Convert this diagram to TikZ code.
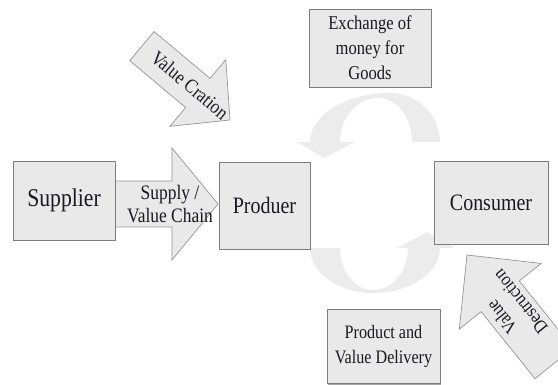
\documentclass[tikz,border=0pt]{standalone}
\usepackage{fontspec}
\setmainfont[FakeStretch=0.85]{Liberation Serif}
\usetikzlibrary{shadows}
\definecolor{boxfill}{RGB}{233,233,233}
\definecolor{boxline}{RGB}{125,125,125}
\definecolor{arrline}{RGB}{150,150,150}
\definecolor{cresfill}{RGB}{236,236,236}
\definecolor{txtcol}{RGB}{25,25,32}
\definecolor{shadowcol}{RGB}{165,165,165}
\begin{document}
\begin{tikzpicture}[x=1pt,y=1pt,
  box/.style={draw=boxline, fill=boxfill, line width=0.8pt, text=txtcol, align=center, inner sep=0pt,
    drop shadow={shadow xshift=1.2pt, shadow yshift=-1.2pt, fill=shadowcol, opacity=1}},
  blk/.style={draw=arrline, fill=boxfill, line width=0.7pt, line join=miter},
  cres/.style={fill=cresfill, draw=none},
  txt/.style={text=txtcol, inner sep=0pt, align=center},
]
\useasboundingbox (0,0) rectangle (558,-385);
\clip (0,0) rectangle (558,-385);

% circular (crescent) arrows
\path[cres] (440,-142) arc[start angle=0, end angle=90, x radius=50, y radius=49]
  arc[start angle=90, end angle=180, x radius=80, y radius=49]
  -- (297,-142) -- (324,-158) -- (355,-142) -- (340,-142)
  arc[start angle=180, end angle=90, x radius=38, y radius=44]
  arc[start angle=90, end angle=0, x radius=34, y radius=44] -- cycle;
\path[cres] (310,-248) arc[start angle=180, end angle=270, x radius=63, y radius=45]
  arc[start angle=270, end angle=360, x radius=67, y radius=45]
  -- (455,-248) -- (427,-232) -- (397,-248) -- (408,-248)
  arc[start angle=0, end angle=-90, x radius=35, y radius=42]
  arc[start angle=-90, end angle=-180, x radius=33, y radius=42] -- cycle;

% Supply / Value Chain arrow
\begin{scope}[shift={(218,-204)}]
  \draw[blk] (0,0) -- (-46,56) -- (-46,23) -- (-103,23) -- (-103,-23) -- (-46,-23) -- (-46,-56) -- cycle;
  \node[txt, font=\fontsize{20.5}{23}\selectfont] (chain) at (-48,0) {Supply /\\Value Chain};
\end{scope}

% Value Cration arrow
\begin{scope}[shift={(230,-120)}, rotate=-40]
  \draw[blk] (0,0) -- (-42,43.5) -- (-42,19) -- (-115,19) -- (-115,-19) -- (-42,-19) -- (-42,-43.5) -- cycle;
  \node[txt, rotate=-40, font=\fontsize{20}{22}\selectfont] (creation) at (-53,1) {Value Cration};
\end{scope}

% Value Destruction arrow
\begin{scope}[shift={(467,-255)}, rotate=128.8]
  \draw[blk] (0,0) -- (-53,52.5) -- (-53,24.5) -- (-139,24.5) -- (-139,-24.5) -- (-53,-24.5) -- (-53,-52.5) -- cycle;
  \node[txt, rotate=128.8, font=\fontsize{19}{24}\selectfont] (destruction) at (-70,0) {Value\\Destruction};
\end{scope}

% boxes
\node[box, minimum width=102, minimum height=79, font=\fontsize{25.5}{28}\selectfont] (supplier) at (64,-200.5) {Supplier};
\node[box, minimum width=91, minimum height=87, font=\fontsize{23.5}{26}\selectfont] (producer) at (264.5,-205.5) {Produer};
\node[box, minimum width=114, minimum height=83, font=\fontsize{23.5}{26}\selectfont] (consumer) at (491,-202.5) {Consumer};
\node[box, minimum width=122, minimum height=78, font=\fontsize{19.5}{25}\selectfont] (exchange) at (370,-48) {Exchange of\\money for\\Goods};
\node[box, minimum width=113, minimum height=74, font=\fontsize{19}{25}\selectfont] (delivery) at (383.5,-346.5) {Product and\\Value Delivery};
\end{tikzpicture}
\end{document}
